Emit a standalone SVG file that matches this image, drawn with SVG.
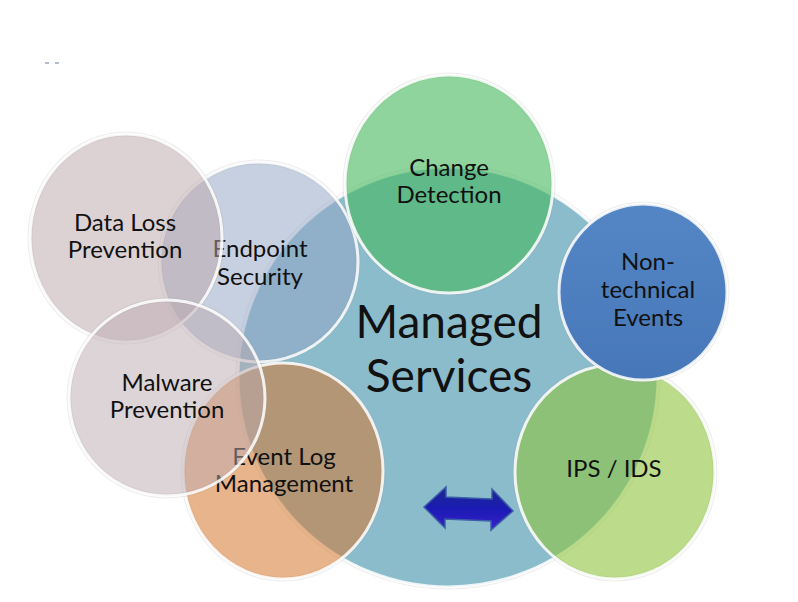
<svg xmlns="http://www.w3.org/2000/svg" width="798" height="602" viewBox="0 0 798 602">
<style>
.rim{stroke:#ffffff;stroke-width:3;stroke-opacity:0.85}
.shade{fill:none;stroke:#9a9a9a;stroke-width:5;stroke-opacity:0.18}
.lbl{font-family:Lato,"Open Sans","Noto Sans",sans-serif;font-size:24px;fill:#111;text-anchor:middle}
.big{font-family:Lato,"Open Sans","Noto Sans",sans-serif;font-size:46px;fill:#111;text-anchor:middle}
</style>
<defs>
<linearGradient id="arrowGrad" x1="0" y1="0" x2="0" y2="1">
<stop offset="0" stop-color="#1c2a8c"/>
<stop offset="0.5" stop-color="#1a1ab4"/>
<stop offset="1" stop-color="#3a20c8"/>
</linearGradient>
<linearGradient id="blueGrad" x1="0" y1="0" x2="0" y2="1">
<stop offset="0" stop-color="#5486c6"/>
<stop offset="1" stop-color="#4777b8"/>
</linearGradient>
</defs>
<rect width="798" height="602" fill="#ffffff"/>
<g id="marks" stroke="#7f93b0" stroke-width="1.2">
<line x1="45" y1="63" x2="49" y2="63"/>
<line x1="55" y1="63" x2="59" y2="63"/>
</g>
<g id="managed-services">
<circle cx="448" cy="377" r="210" class="shade"/>
<circle cx="448" cy="377" r="210" fill="#8bbccc" class="rim"/>
<text class="big" x="449" y="338">Managed</text>
<text class="big" x="449" y="392">Services</text>
</g>
<g id="endpoint-security">
<ellipse cx="259" cy="262" rx="99" ry="100" class="shade"/>
<ellipse cx="259" cy="262" rx="99" ry="100" fill="#94a5c4" fill-opacity="0.52" class="rim"/>
<text class="lbl" x="260" y="257">Endpoint</text>
<text class="lbl" x="260" y="285">Security</text>
</g>
<g id="data-loss-prevention">
<ellipse cx="126" cy="238" rx="96" ry="104" class="shade"/>
<ellipse cx="126" cy="238" rx="96" ry="104" fill="#baa6aa" fill-opacity="0.5" class="rim"/>
<text class="lbl" x="125" y="231">Data Loss</text>
<text class="lbl" x="125" y="258">Prevention</text>
</g>
<g id="event-log-management">
<ellipse cx="283" cy="471" rx="100" ry="108" class="shade"/>
<ellipse cx="283" cy="471" rx="100" ry="108" fill="#d5762d" fill-opacity="0.55" class="rim"/>
<text class="lbl" x="284" y="465">Event Log</text>
<text class="lbl" x="284" y="492">Management</text>
</g>
<g id="malware-prevention">
<ellipse cx="167" cy="398" rx="98" ry="98" class="shade"/>
<ellipse cx="167" cy="398" rx="98" ry="98" fill="#bcaab0" fill-opacity="0.5" class="rim"/>
<text class="lbl" x="167" y="391">Malware</text>
<text class="lbl" x="167" y="418">Prevention</text>
</g>
<g id="change-detection">
<ellipse cx="449" cy="184" rx="104" ry="109" class="shade"/>
<ellipse cx="449" cy="184" rx="104" ry="109" fill="#44b75a" fill-opacity="0.6" class="rim"/>
<text class="lbl" x="449" y="176">Change</text>
<text class="lbl" x="449" y="203">Detection</text>
</g>
<g id="ips-ids">
<ellipse cx="615" cy="472" rx="100" ry="107" class="shade"/>
<ellipse cx="615" cy="472" rx="100" ry="107" fill="#8fc53f" fill-opacity="0.6" class="rim"/>
<text class="lbl" x="614" y="477">IPS / IDS</text>
</g>
<g id="non-technical-events">
<ellipse cx="643" cy="292" rx="84" ry="88" class="shade"/>
<ellipse cx="643" cy="292" rx="84" ry="88" fill="url(#blueGrad)" class="rim"/>
<text class="lbl" x="648" y="270">Non-</text>
<text class="lbl" x="648" y="298">technical</text>
<text class="lbl" x="648" y="326">Events</text>
</g>
<g id="connectors">
<path d="M424,507 L446,487 L446,497 L492,499 L492,489 L513,511 L491,530 L491,521 L445,519 L445,528 Z" fill="url(#arrowGrad)" stroke="#3d5ea8" stroke-width="1.5" stroke-linejoin="miter"/>
</g>
</svg>
